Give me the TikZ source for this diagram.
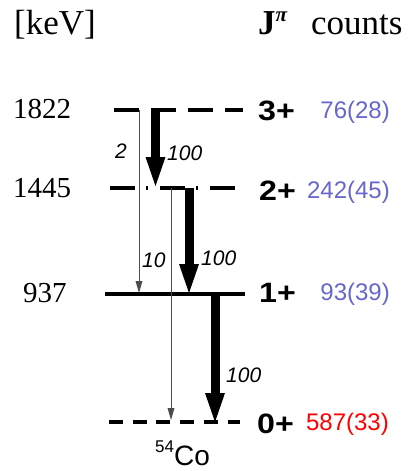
\documentclass[tikz,border=0pt]{standalone}
\usepackage{fontspec}
\setmainfont{Liberation Serif}
\setsansfont{Liberation Sans}
\usetikzlibrary{arrows.meta}
\definecolor{cntblue}{RGB}{102,102,204}
\definecolor{cntred}{RGB}{255,0,0}
\begin{document}
\begin{tikzpicture}[x=1pt,y=-1pt,
  levelline/.style={line width=3.5pt},
  bigarrow/.style={line width=9pt,-{Triangle[width=20pt,length=29pt,line width=0pt]}},
  thinarrow/.style={line width=0.8pt,draw=black!70,-{Triangle[width=7pt,length=12pt,line width=0pt]}},
  header/.style={font=\fontsize{35}{35}\selectfont,anchor=base west,inner sep=0pt},
  energy/.style={font=\fontsize{29}{29}\selectfont,anchor=base west,inner sep=0pt},
  spin/.style={font=\sffamily\bfseries\fontsize{28}{28}\selectfont,anchor=base west,inner sep=0pt},
  count/.style={font=\sffamily\fontsize{24}{24}\selectfont,anchor=base east,inner sep=0pt,text=cntblue},
  branch/.style={font=\sffamily\itshape\fontsize{21}{21}\selectfont,anchor=base west,inner sep=0pt}]
\useasboundingbox (0,0) rectangle (407,471);

% headers
\node[header] (kev) at (14,34) {[keV]};
\node[header] (jpi) at (258,34) {\textbf{J}\raisebox{13pt}{\fontsize{21}{21}\selectfont\bfseries\itshape π}};
\node[header] (cnt) at (311,34) {counts};

% energies
\node[energy] (e3) at (13,118) {1822};
\node[energy] (e2) at (13,197) {1445};
\node[energy] (e1) at (23,302) {937};

% level lines
\coordinate (L3w) at (114,110); \coordinate (L3e) at (243,110);
\coordinate (L2w) at (110,188); \coordinate (L2e) at (237,188);
\coordinate (L1w) at (105,294); \coordinate (L1e) at (245,294);
\coordinate (L0w) at (109,422); \coordinate (L0e) at (240,422);
\draw[levelline,dash pattern=on 25pt off 12pt] (L3w) -- (L3e);
\draw[levelline,dash pattern=on 25pt off 11pt on 2pt off 12pt] (L2w) -- (L2e);
\draw[levelline] (L1w) -- (L1e);
\draw[levelline,dash pattern=on 14pt off 9.7pt] (L0w) -- (L0e);

% spins
\node[spin] (s3) at (258,120) {\scalebox{1.15}[1]{3+}};
\node[spin] (s2) at (259,200) {\scalebox{1.15}[1]{2+}};
\node[spin] (s1) at (259,302) {\scalebox{1.15}[1]{1+}};
\node[spin] (s0) at (257,433) {\scalebox{1.15}[1]{0+}};

% counts
\node[count] (c3) at (390,118) {76(28)};
\node[count] (c2) at (390,198) {242(45)};
\node[count] (c1) at (390,300) {93(39)};
\node[count,text=cntred] (c0) at (389,430) {587(33)};

% transitions
\coordinate (a1s) at (155.5,110); \coordinate (a1e) at (155.5,186);
\coordinate (a2s) at (189,188);   \coordinate (a2e) at (189,293);
\coordinate (a3s) at (215,294);   \coordinate (a3e) at (215,422);
\coordinate (b1s) at (139,110);   \coordinate (b1e) at (139,293);
\coordinate (b2s) at (171,188);   \coordinate (b2e) at (171,420);
\draw[thinarrow] (b1s) -- (b1e);
\draw[thinarrow] (b2s) -- (b2e);
\draw[bigarrow] (a1s) -- (a1e);
\draw[bigarrow] (a2s) -- (a2e);
\draw[bigarrow] (a3s) -- (a3e);

% branching labels
\node[branch] (r1) at (167,160) {100};
\node[branch] (r2) at (201,265) {100};
\node[branch] (r3) at (226,382) {100};
\node[branch] (r4) at (115,158) {2};
\node[branch] (r5) at (142,267) {10};

% nucleus
\node[font=\sffamily\fontsize{28}{28}\selectfont,anchor=base west,inner sep=0pt] (nuc) at (155,465) {\raisebox{13pt}{\fontsize{17}{17}\selectfont 54}Co};
\end{tikzpicture}
\end{document}
